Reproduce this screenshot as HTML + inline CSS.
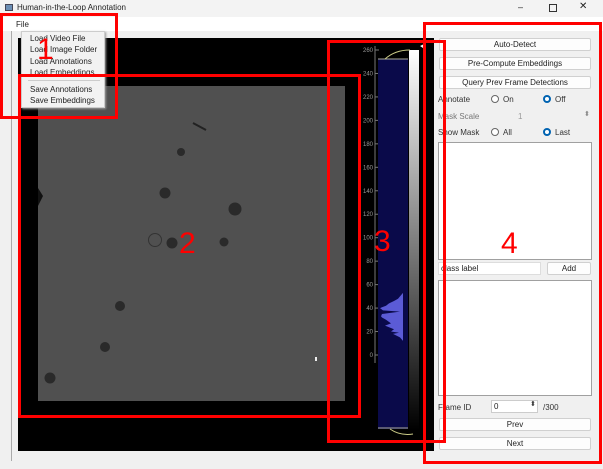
<!DOCTYPE html>
<html><head><meta charset="utf-8"><style>
*{box-sizing:border-box;margin:0;padding:0}
body{width:603px;height:469px;position:relative;overflow:hidden;background:#f0f0f0;font-family:"Liberation Sans",sans-serif;font-size:8px;color:#222}
.a{position:absolute}
.btn{position:absolute;background:#fdfdfd;border:1px solid #d0d0d0;border-radius:2px;text-align:center;line-height:11px;font-size:8px}
.box{position:absolute;background:#fff;border:1px solid #a0a0a0}
.lbl{position:absolute;font-size:8px;color:#333}
.rad{position:absolute;width:8px;height:8px;border:1px solid #666;border-radius:50%;background:#fff}
.rad.on{border:2.5px solid #0063b1}
.red{position:absolute;border:3px solid #f00}
.num{position:absolute;color:#f00;font-size:30px;line-height:30px}
</style></head><body>
<div class="a" style="left:0;top:0;width:603px;height:17px;background:#f3f3f3">
 <div class="a" style="left:5px;top:4px;width:8px;height:7px;background:#6b8fb5;border:1px solid #445"></div>
 <div class="a" style="left:17px;top:3px;font-size:8px">Human-in-the-Loop Annotation</div>
 <div class="a" style="left:518px;top:2px;font-size:9px">–</div>
 <div class="a" style="left:549px;top:4px;width:8px;height:8px;border:1px solid #333"></div>
 <div class="a" style="left:579px;top:1px;font-size:10px">✕</div>
</div>
<div class="a" style="left:0;top:17px;width:603px;height:14px;background:#fff">
 <div class="a" style="left:16px;top:3px">File</div>
</div>
<div class="a" style="left:11px;top:31px;width:1px;height:430px;background:#aaa"></div>
<svg class="a" style="left:18px;top:38px" width="416" height="413">
 <rect width="416" height="413" fill="#000"/>
 <rect x="20" y="48" width="307" height="315" fill="#505050"/>
 <g fill="#2a2a2a">
  <circle cx="163" cy="114" r="4"/><circle cx="147" cy="155" r="5.5"/><circle cx="217" cy="171" r="6.5"/>
  <circle cx="154" cy="205" r="5.5"/><circle cx="206" cy="204" r="4.5"/><circle cx="102" cy="268" r="5"/>
  <circle cx="87" cy="309" r="5"/><circle cx="32" cy="340" r="5.5"/>
 </g>
 <circle cx="137" cy="202" r="6.5" fill="none" stroke="#333" stroke-width="1"/>
 <path d="M175 85 L188 92" stroke="#222" stroke-width="2"/>
 <path d="M20 150 L25 158 L20 168Z" fill="#111"/>
 <rect x="297" y="319" width="2" height="4" fill="#eee"/>
</svg>
<svg class="a" style="left:340px;top:38px" width="94" height="400" id="hist"></svg>
<div>
 <div class="btn" style="left:439px;top:38px;width:152px;height:13px">Auto-Detect</div>
 <div class="btn" style="left:439px;top:57px;width:152px;height:13px">Pre-Compute Embeddings</div>
 <div class="btn" style="left:439px;top:76px;width:152px;height:13px">Query Prev Frame Detections</div>
 <div class="lbl" style="left:438px;top:95px">Annotate</div>
 <div class="rad" style="left:491px;top:95px"></div><div class="lbl" style="left:503px;top:95px">On</div>
 <div class="rad on" style="left:543px;top:95px"></div><div class="lbl" style="left:555px;top:95px">Off</div>
 <div class="lbl" style="left:438px;top:112px;color:#777">Mask Scale</div>
 <div class="lbl" style="left:518px;top:112px;color:#999">1</div>
 <div class="lbl" style="left:584px;top:110px;color:#888;font-size:7px">⬍</div>
 <div class="lbl" style="left:438px;top:128px">Show Mask</div>
 <div class="rad" style="left:491px;top:128px"></div><div class="lbl" style="left:503px;top:128px">All</div>
 <div class="rad on" style="left:543px;top:128px"></div><div class="lbl" style="left:555px;top:128px">Last</div>
 <div class="box" style="left:438px;top:142px;width:154px;height:118px"></div>
 <div class="box" style="left:438px;top:262px;width:103px;height:13px;border-color:#ddd;padding-left:2px;line-height:11px">class label</div>
 <div class="btn" style="left:547px;top:262px;width:44px;height:13px">Add</div>
 <div class="box" style="left:438px;top:280px;width:154px;height:116px"></div>
 <div class="lbl" style="left:438px;top:403px">Frame ID</div>
 <div class="box" style="left:491px;top:400px;width:47px;height:13px;border-color:#ccc;padding-left:2px;line-height:11px">0</div>
 <div class="lbl" style="left:530px;top:400px;font-size:7px">⬍</div>
 <div class="lbl" style="left:543px;top:403px">/300</div>
 <div class="btn" style="left:439px;top:418px;width:152px;height:13px">Prev</div>
 <div class="btn" style="left:439px;top:437px;width:152px;height:13px">Next</div>
</div>
<div class="a" style="left:21px;top:31px;width:84px;height:77px;background:#f2f2f2;border:1px solid #ccc;box-shadow:1px 1px 2px #999">
 <div class="a" style="left:8px;top:2px">Load Video File</div>
 <div class="a" style="left:8px;top:13px">Load Image Folder</div>
 <div class="a" style="left:8px;top:25px">Load Annotations</div>
 <div class="a" style="left:8px;top:36px">Load Embeddings</div>
 <div class="a" style="left:6px;top:48px;width:72px;height:1px;background:#ccc"></div>
 <div class="a" style="left:8px;top:53px">Save Annotations</div>
 <div class="a" style="left:8px;top:64px">Save Embeddings</div>
</div>
<div class="red" style="left:0;top:13px;width:118px;height:106px"></div>
<div class="red" style="left:18px;top:74px;width:343px;height:344px"></div>
<div class="red" style="left:327px;top:40px;width:119px;height:403px"></div>
<div class="red" style="left:423px;top:22px;width:179px;height:442px"></div>
<div class="num" style="left:37px;top:35px">1</div>
<div class="num" style="left:179px;top:229px">2</div>
<div class="num" style="left:374px;top:227px">3</div>
<div class="num" style="left:501px;top:229px">4</div>
<script>
const tickValues=[0,20,40,60,80,100,120,140,160,180,200,220,240,260];
const histLevels=[12,15,18,19,20,22,25,27,30,32,33,35,37,38,40,42,44,46,48,50,53];
const histCounts=[0,3,10,4,12,9,18,12,17,21,22,21,3,20,23,17,14,9,5,3,0];
const NS="http://www.w3.org/2000/svg";
const svg=document.getElementById('hist');
const y=v=>317-v*(305/260);
const xc=c=>63-c;
function mk(t,a){const e=document.createElementNS(NS,t);for(const k in a)e.setAttribute(k,a[k]);svg.appendChild(e);return e;}
let ax=mk('line',{x1:35,x2:35,y1:8,y2:325,stroke:'#777'});


tickValues.forEach(v=>{
 let t=mk('text',{x:33,y:y(v)+2,'text-anchor':'end','font-size':'6',fill:'#999','font-family':'Liberation Sans'});t.textContent=v;
 
 
 mk('line',{x1:35,x2:39,y1:y(v),y2:y(v),stroke:'#777'});
});
let bar=mk('rect',{x:38,y:21,width:30,height:370,fill:'#0a0a4a'});


let g=mk('defs',{});g.innerHTML='<linearGradient id="gr" x1="0" y1="1" x2="0" y2="0"><stop offset="0" stop-color="#000"/><stop offset="1" stop-color="#fff"/></linearGradient>';
let grad=mk('rect',{x:69,y:12,width:10,height:380,fill:'url(#gr)'});


let pts=histLevels.map((v,i)=>xc(histCounts[i])+','+y(v)).join(' ');
let poly=mk('polygon',{points:'63,'+y(histLevels[0])+' '+pts+' 63,'+y(histLevels[histLevels.length-1]),fill:'#5b5bd6'});


mk('line',{x1:38,x2:68,y1:21,y2:21,stroke:'#aa9'});
mk('path',{d:'M45 21 Q55 12 70 12',stroke:'#cc8',fill:'none'});
mk('polygon',{points:'80,8 86,5 86,12',fill:'#fff'});
mk('line',{x1:38,x2:68,y1:390,y2:390,stroke:'#aa9'});
mk('path',{d:'M50 391 Q60 398 73 396',stroke:'#cc8',fill:'none'});
</script>
</body></html>
